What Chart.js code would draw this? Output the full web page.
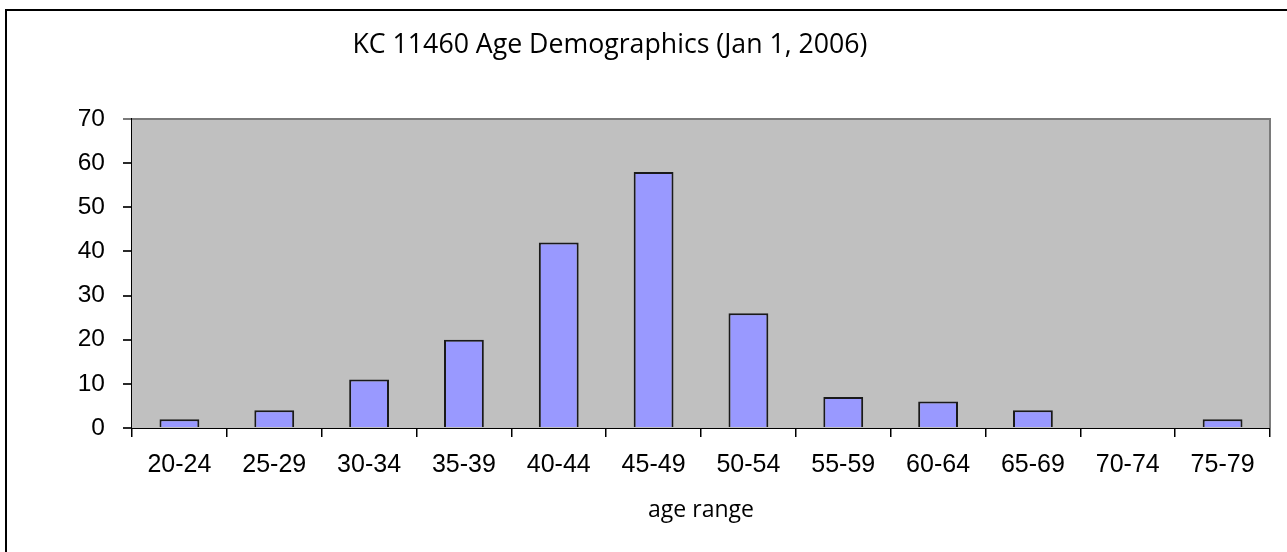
<!DOCTYPE html>
<html>
<head>
<meta charset="utf-8">
<script src="https://cdn.jsdelivr.net/npm/chart.js@4"></script>
<style>
  body { margin: 0; background: #fff; }
  #frame {
    position: absolute; left: 5px; top: 9px;
    width: 1300px; height: 560px;
    border: 2px solid #000;
  }
  #wrap { position: absolute; left: 0; top: 0; width: 1287px; height: 552px; }
</style>
</head>
<body>
<div id="frame"></div>
<div id="wrap"><canvas id="ageChart" width="1287" height="552"></canvas></div>
<script>
const chartTitle = "KC 11460 Age Demographics (Jan 1, 2006)";
const ageRanges = ["20-24", "25-29", "30-34", "35-39", "40-44", "45-49",
  "50-54", "55-59", "60-64", "65-69", "70-74", "75-79"];
const counts = [2, 4, 11, 20, 42, 58, 26, 7, 6, 4, 0, 2];
const yTicks = [0, 10, 20, 30, 40, 50, 60, 70];

// grey plot background + grey frame on top/right, title drawn off-centre like Excel
const plotBackground = {
  id: "plotBackground",
  beforeDatasetsDraw(chart) {
    const { ctx, chartArea: a } = chart;
    ctx.save();
    ctx.fillStyle = "#c0c0c0";
    ctx.fillRect(a.left, a.top, a.right - a.left, a.bottom - a.top);
    ctx.restore();
  },
  afterDraw(chart) {
    const { ctx, chartArea: a } = chart;
    ctx.save();
    ctx.strokeStyle = "#7a7a7a";
    ctx.lineWidth = 2;
    ctx.beginPath();
    ctx.moveTo(a.left, a.top);
    ctx.lineTo(a.right, a.top);
    ctx.lineTo(a.right, a.bottom);
    ctx.stroke();
    ctx.fillStyle = "#000";
    ctx.font = "26.7px 'Open Sans'";
    ctx.textAlign = "center";
    ctx.textBaseline = "middle";
    ctx.fillText(chartTitle, 610, 45);
    ctx.restore();
  }
};

Chart.defaults.font.family = "'Liberation Sans', Arial, sans-serif";
Chart.defaults.color = "#000";

const ctx = document.getElementById("ageChart").getContext("2d");
new Chart(ctx, {
  type: "bar",
  data: {
    labels: ageRanges,
    datasets: [{
      data: counts,
      backgroundColor: "#9999ff",
      borderColor: "#1a1a1a",
      borderWidth: 2,
      barPercentage: 0.42,
      categoryPercentage: 1,
      borderSkipped: "bottom"
    }]
  },
  options: {
    responsive: false,
    animation: false,
    layout: { padding: { left: 60, top: 119, right: 17, bottom: 22 } },
    plugins: { legend: { display: false }, tooltip: { enabled: false } },
    scales: {
      x: {
        offset: true,
        afterFit(scale) { scale.height = 102; },
        grid: {
          offset: true,
          drawOnChartArea: false,
          tickLength: 9,
          color: "#000",
          lineWidth: 1.5
        },
        border: { color: "#000", width: 2 },
        ticks: { font: { size: 25 }, padding: 13, maxRotation: 0 },
        title: {
          display: true,
          text: "age range",
          font: { family: "'Open Sans'", size: 23 },
          padding: { top: 0, bottom: 6 }
        }
      },
      y: {
        min: 0,
        max: 70,
        afterFit(scale) { scale.width = 72; },
        afterBuildTicks(scale) { scale.ticks = yTicks.map(v => ({ value: v })); },
        grid: {
          tickLength: 9,
          color: ctx => ctx.tick && ctx.tick.value === 70 ? "#7a7a7a" : "#2a2a2a",
          lineWidth: 2
        },
        border: { color: "#000", width: 2 },
        ticks: { font: { size: 24.5 }, padding: 18 }
      }
    }
  },
  plugins: [plotBackground]
});
</script>
</body>
</html>
